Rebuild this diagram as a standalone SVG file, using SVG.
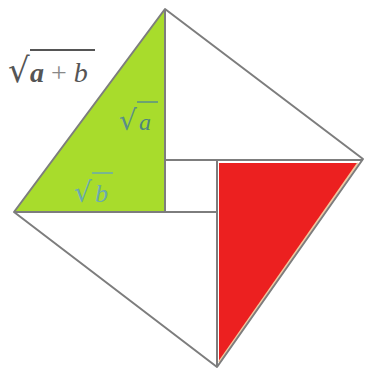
<svg xmlns="http://www.w3.org/2000/svg" width="365" height="371" viewBox="0 0 365 371">
<style>
.edge{stroke:#7d7d7d;stroke-width:2;fill:none;stroke-linejoin:round}
.lbl{font-family:"Liberation Serif","DejaVu Serif",serif}
.rad{font-family:"DejaVu Serif",serif}
</style>
<rect width="365" height="371" fill="#ffffff"/>
<g id="green-triangle">
<polygon points="165,9 14,212 165,212" fill="#a8dc2c"/>
</g>
<g id="red-triangle">
<polygon points="219,163 358,163 219,362" fill="#ec2020"/>
<line x1="358" y1="163" x2="219" y2="362" stroke="#f0c8a0" stroke-width="2"/>
</g>
<g id="connectors">
<polygon class="edge" points="165,9 363,159 217,367 14,212"/>
<line class="edge" x1="165" y1="9" x2="165" y2="212"/>
<line class="edge" x1="14" y1="212" x2="217" y2="212"/>
<line class="edge" x1="363" y1="160" x2="165" y2="160"/>
<line class="edge" x1="217" y1="160" x2="217" y2="367"/>
</g>
<g id="label-ab">
<text class="rad" x="8" y="82" font-size="34" fill="#555">√</text>
<line x1="30" y1="50" x2="95" y2="50" stroke="#555" stroke-width="2"/>
<text class="lbl" x="30" y="82" font-size="28" fill="#555"><tspan font-style="italic" font-weight="bold">a</tspan><tspan fill="#888"> + </tspan><tspan font-style="italic">b</tspan></text>
</g>
<g id="label-a">
<text class="rad" x="119" y="130" font-size="28" fill="#5a8f88">√</text>
<line x1="137" y1="102" x2="158" y2="102" stroke="#5a8f88" stroke-width="1.5"/>
<text class="lbl" x="139" y="130" font-size="24" font-style="italic" fill="#4d8480">a</text>
</g>
<g id="label-b">
<text class="rad" x="74" y="202" font-size="28" fill="#6aaab0">√</text>
<line x1="92" y1="173" x2="113" y2="173" stroke="#6aaab0" stroke-width="1.5"/>
<text class="lbl" x="95" y="202" font-size="26" font-style="italic" fill="#6aaab0">b</text>
</g>
</svg>
